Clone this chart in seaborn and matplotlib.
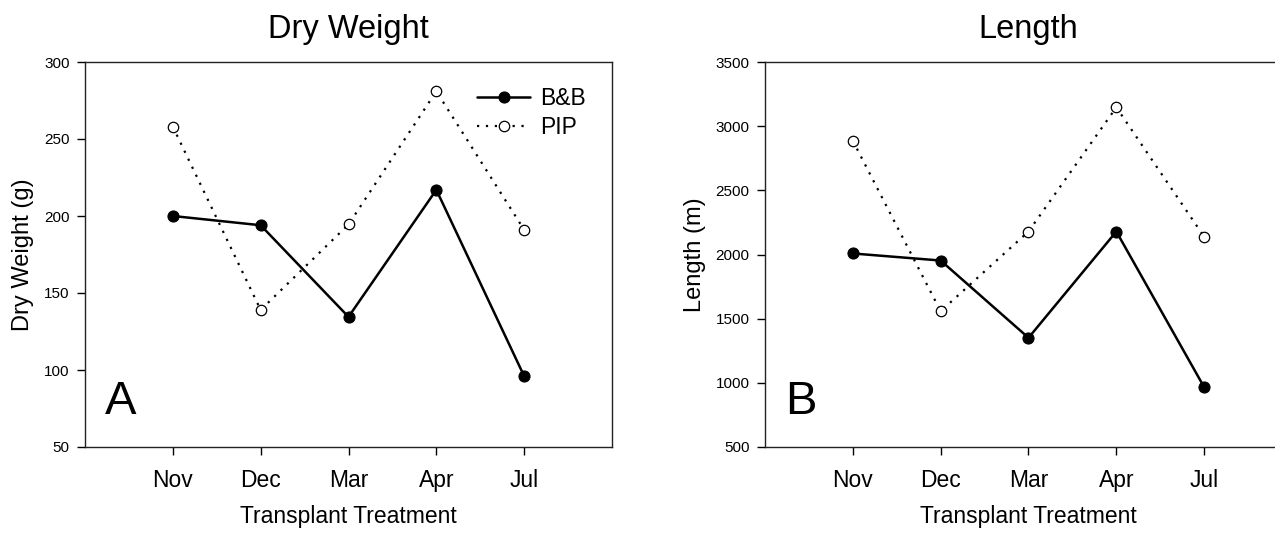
import matplotlib
matplotlib.use("Agg")
import matplotlib.pyplot as plt
import seaborn as sns
import pandas as pd

months = ["Nov", "Dec", "Mar", "Apr", "Jul"]
dw_bb = [200, 194, 134.5, 217, 96]
dw_pip = [258, 139, 194.5, 281, 191]
len_bb = [2008, 1953, 1351, 2179, 966]
len_pip = [2886, 1558, 2179, 3147, 2138]
yticks_dw = [50, 100, 150, 200, 250, 300]
yticks_len = [500, 1000, 1500, 2000, 2500, 3000, 3500]

sns.set_theme(style="ticks")
plt.rcParams['font.family'] = ['Liberation Sans', 'DejaVu Sans']
plt.rcParams['text.color'] = 'black'
plt.rcParams['axes.labelcolor'] = 'black'
plt.rcParams['xtick.color'] = 'black'
plt.rcParams['ytick.color'] = 'black'

W, H = 1275, 556
fig = plt.figure(figsize=(W / 100, H / 100), dpi=100)

def px_axes(x0, y0, x1, y1):
    return fig.add_axes([x0 / W, 1 - y1 / H, (x1 - x0) / W, (y1 - y0) / H])

axA = px_axes(85, 62, 612, 447)
axB = px_axes(765, 62, 1292, 447)

def draw(ax, bb, pip, yt, ylabel, title, letter, legend):
    df = pd.DataFrame({"month": months, "bb": bb, "pip": pip})
    sns.lineplot(data=df, x="month", y="pip", ax=ax, color="black", linestyle=(0, (1, 3)),
                 linewidth=1.6, marker="o", markersize=7.5, markerfacecolor="white",
                 markeredgecolor="black", markeredgewidth=0.9, label="PIP", sort=False)
    sns.lineplot(data=df, x="month", y="bb", ax=ax, color="black", linestyle="-",
                 linewidth=1.8, marker="o", markersize=8, markerfacecolor="black",
                 markeredgecolor="black", label="B&B", sort=False)
    ax.set_xlim(-1, 5)
    ax.set_ylim(yt[0], yt[-1])
    ax.set_yticks(yt)
    ax.set_yticklabels([str(v) for v in yt], fontsize=11)
    ax.tick_params(axis="x", labelsize=16.5, length=6, width=1, direction="out", pad=10)
    ax.tick_params(axis="y", length=6, width=1, direction="out", pad=5)
    ax.set_ylabel(ylabel, fontsize=17, labelpad=7)
    ax.set_xlabel("Transplant Treatment", fontsize=16.5, labelpad=9)
    ax.set_title(title, fontsize=23.5, pad=17)
    for s in ax.spines.values():
        s.set_color("#222222")
        s.set_linewidth(1.0)
    ax.text(0.038, 0.085, letter, transform=ax.transAxes, fontsize=34, ha="left", va="baseline")
    if legend:
        h, l = ax.get_legend_handles_labels()
        ax.legend([h[1], h[0]], [l[1], l[0]], loc="upper right", frameon=False,
                  fontsize=16.5, handlelength=2.3, handletextpad=0.45,
                  bbox_to_anchor=(0.968, 0.96), borderaxespad=0, labelspacing=0.3)
    else:
        leg = ax.get_legend()
        if leg:
            leg.remove()

draw(axA, dw_bb, dw_pip, yticks_dw, "Dry Weight (g)", "Dry Weight", "A", True)
draw(axB, len_bb, len_pip, yticks_len, "Length (m)", "Length", "B", False)

fig.savefig("out.png", dpi=100)
